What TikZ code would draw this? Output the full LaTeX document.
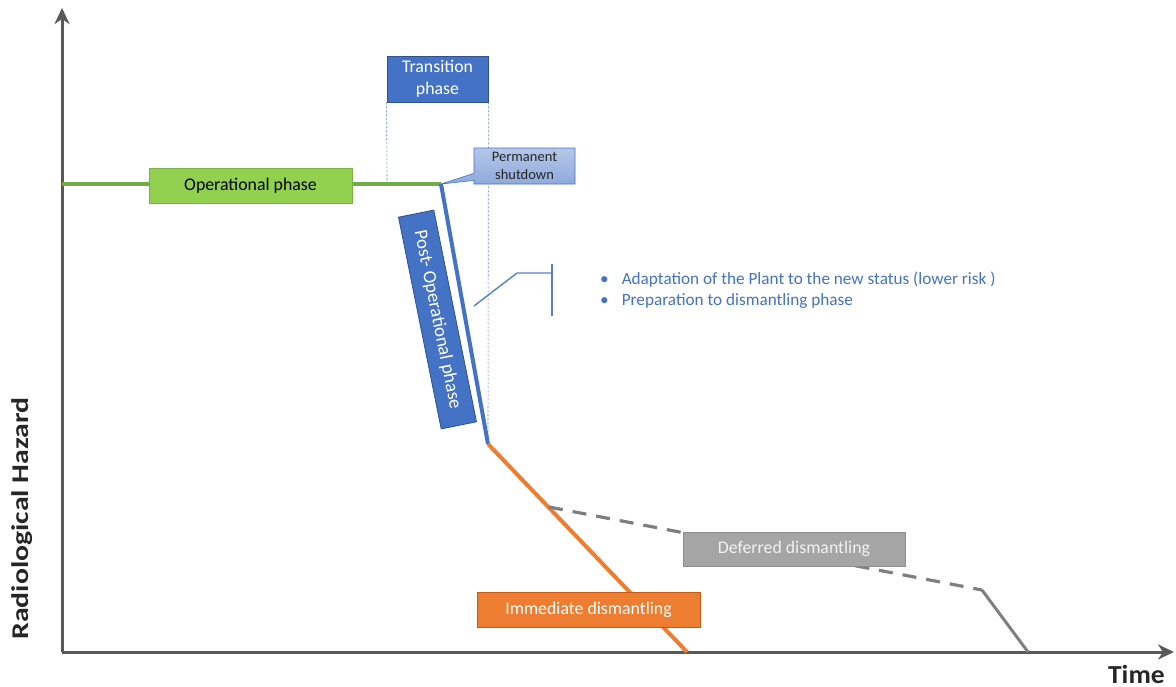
\documentclass[tikz,border=0pt]{standalone}
\usepackage{fontspec}
\setmainfont{Carlito}
\usetikzlibrary{arrows.meta,shapes.callouts}

\definecolor{axisgray}{HTML}{595959}
\definecolor{opline}{HTML}{70AD47}
\definecolor{opfill}{HTML}{92D050}
\definecolor{phaseblue}{HTML}{4472C4}
\definecolor{phaseedge}{HTML}{2F528F}
\definecolor{shuttop}{HTML}{B4C7E7}
\definecolor{shutbot}{HTML}{8FAADC}
\definecolor{immorange}{HTML}{ED7D31}
\definecolor{immedge}{HTML}{C55A11}
\definecolor{defline}{HTML}{7F7F7F}
\definecolor{deffill}{HTML}{A5A5A5}
\definecolor{defedge}{HTML}{8C8C8C}

\tikzset{
  axisline/.style={draw=axisgray, line width=3pt, -{Stealth[length=16pt,width=15pt,inset=5pt]}},
  phasebox/.style={rectangle, inner sep=0pt, align=center, font=\fontsize{17.8}{22}\selectfont},
  opbox/.style={phasebox, fill=opfill, draw=opfill!85!black, line width=0.4pt, text=black},
  bluebox/.style={phasebox, fill=phaseblue, draw=phaseedge, line width=0.8pt, text=white},
  shutbox/.style={rectangle callout, inner sep=0pt, align=center, top color=shuttop, bottom color=shutbot,
    draw=phaseblue, line width=0.6pt, text=black!85, font=\fontsize{14.5}{18}\selectfont},
  immbox/.style={phasebox, fill=immorange, draw=immedge, line width=0.8pt, text=white},
  defbox/.style={phasebox, fill=deffill, draw=defedge, line width=0.8pt, text=white!95!black},
  guide/.style={draw=phaseblue, line width=0.6pt, dash pattern=on 2pt off 2pt},
  bracket/.style={draw=phaseblue!90, line width=1.4pt},
  axislabel/.style={inner sep=0pt, font=\bfseries\fontsize{26}{30}\selectfont, text=black!85},
}

\begin{document}
\begin{tikzpicture}[x=1pt,y=-1pt]
\useasboundingbox (0,0) rectangle (1176,686);

% key points of the hazard curve
\coordinate (origin) at (62,652);
\coordinate (ytop) at (62,8);
\coordinate (xend) at (1174,652);
\coordinate (opstart) at (62,184);
\coordinate (shut) at (441,184);
\coordinate (postend) at (488,444);
\coordinate (immend) at (687,652);
\coordinate (defstart) at (549,507);
\coordinate (defknee) at (982,590);
\coordinate (defend) at (1028,652);

% axes
\draw[axisline] (origin) -- (ytop);
\draw[axisline] (origin) -- (xend);

% transition phase guides
\node[bluebox, minimum width=101pt, minimum height=46pt] (trans) at (437.5,79) {Transition\\phase};
\coordinate (guideL) at (387,184);
\coordinate (guideR) at (488,444);
\draw[guide] (trans.south west) -- (guideL);
\draw[guide] (trans.south east) -- (guideR);

% curve segments
\draw[opline, line width=3.2pt] (opstart) -- (shut);
\draw[phaseblue, line width=4pt] (shut) -- (postend);
\draw[immorange, line width=4pt] (postend) -- (immend);
\draw[defline, line width=3.2pt, dash pattern=on 14pt off 10pt] (defstart) -- (defknee);
\draw[defline, line width=3pt] (defknee) -- (defend);

% phase labels
\node[opbox, minimum width=203pt, minimum height=35pt] (op) at (250.5,185.5) {Operational phase};
\node[shutbox, minimum width=101pt, minimum height=36pt, callout absolute pointer={(shut)}] (shutdown) at (524.5,166) {Permanent\\shutdown};
\node[bluebox, minimum width=216pt, minimum height=36pt, rotate=-78.6, font=\fontsize{18.8}{22}\selectfont] (post) at (437.5,319.5) {Post- Operational phase};
\node[immbox, minimum width=223pt, minimum height=35pt] (imm) at (588.5,609.5) {Immediate dismantling};
\node[defbox, minimum width=222pt, minimum height=34pt] (def) at (794,549) {Deferred dismantling};

% bracket pointing to the notes
\coordinate (brA) at (474,306);
\coordinate (brB) at (517,273);
\coordinate (brC) at (552,273);
\coordinate (brTop) at (552,264);
\coordinate (brBot) at (552,316);
\draw[bracket] (brA) -- (brB) -- (brC);
\draw[bracket] (brTop) -- (brBot);

\node[anchor=west, inner sep=0pt, text=phaseblue, font=\fontsize{17.2}{21}\selectfont] (notes) at (600,291)
  {\begin{tabular}{@{}l@{\hspace{13pt}}l@{}}
   \textbullet & Adaptation of the Plant to the new status (lower risk )\\
   \textbullet & Preparation to dismantling phase
   \end{tabular}};

% axis titles
\node[axislabel, anchor=base east] (tlabel) at (1165,683) {\scalebox{1.06}[1]{Time}};
\node[axislabel, rotate=90, font=\bfseries\fontsize{24}{28}\selectfont] (hlabel) at (22,518.5) {\scalebox{1.24}[1]{Radiological Hazard}};
\end{tikzpicture}
\end{document}
